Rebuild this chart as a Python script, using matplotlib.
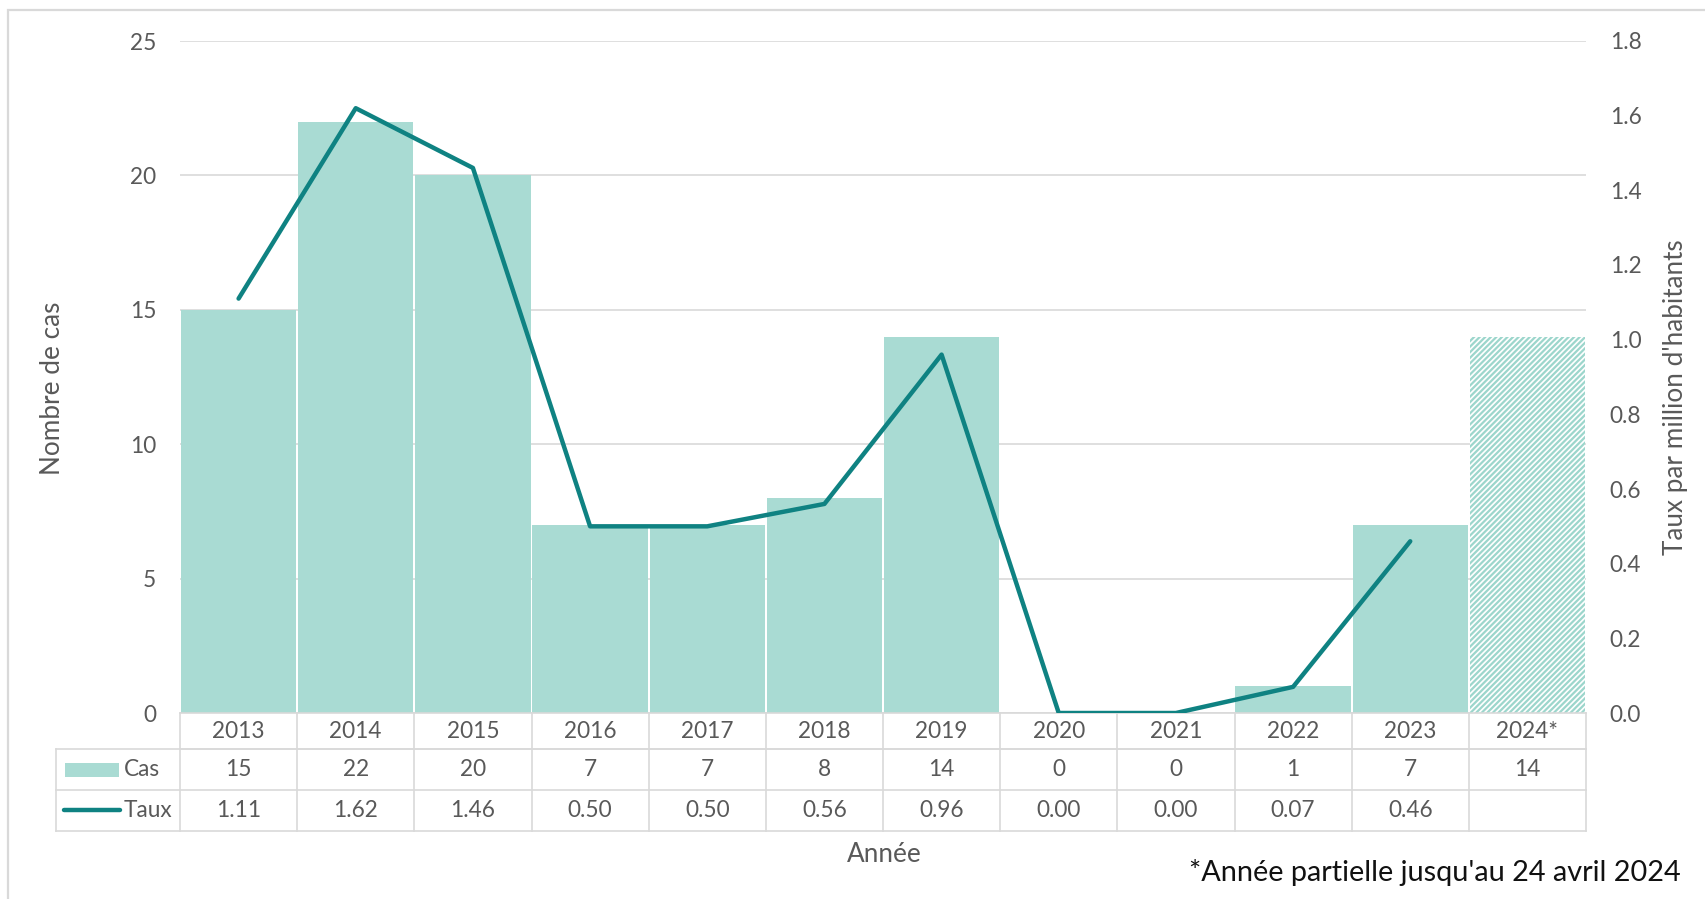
import matplotlib
matplotlib.use("Agg")
import matplotlib.pyplot as plt
from matplotlib.patches import Rectangle
from matplotlib.lines import Line2D
from matplotlib.transforms import blended_transform_factory
import numpy as np

plt.rcParams['font.family'] = ['Lato', 'DejaVu Sans']
plt.rcParams['hatch.linewidth'] = 1.6

years = ["2013", "2014", "2015", "2016", "2017", "2018", "2019", "2020", "2021", "2022", "2023", "2024*"]
cas = [15, 22, 20, 7, 7, 8, 14, 0, 0, 1, 7, 14]
taux = [1.11, 1.62, 1.46, 0.50, 0.50, 0.56, 0.96, 0.00, 0.00, 0.07, 0.46]
taux_labels = ["1.11", "1.62", "1.46", "0.50", "0.50", "0.56", "0.96", "0.00", "0.00", "0.07", "0.46", ""]

BAR = '#A9DBD3'
HATCH = '#9CD6CC'
LINE = '#0F8282'
GRID = '#D9D9D9'
TXT = '#595959'
FS = 16.3
FSL = 18.8

W, H = 1705, 899
fig = plt.figure(figsize=(W / 100, H / 100), dpi=100)

def fx(px):
    return px / W

def fy(py):
    return 1 - py / H

# outer border
fig.patches.append(Rectangle((fx(8), fy(905)), fx(1710) - fx(8), fy(10) - fy(905),
                             transform=fig.transFigure, fill=False, edgecolor=GRID, lw=1.6))

ax_l, ax_r, ax_t, ax_b = 180, 1586, 41, 713
ax = fig.add_axes([fx(ax_l), fy(ax_b), fx(ax_r) - fx(ax_l), fy(ax_t) - fy(ax_b)])
ax2 = ax.twinx()

x = np.arange(len(years))
ax.bar(x[:-1], cas[:-1], width=0.985, color=BAR, lw=0, zorder=2)
ax.bar(x[-1:], cas[-1:], width=0.985, facecolor='white', edgecolor=HATCH, lw=0, hatch='//////', zorder=2)
ax.set_xlim(-0.5, len(years) - 0.5)
ax.set_ylim(0, 25)
ax.set_yticks([0, 5, 10, 15, 20, 25])
ax.grid(axis='y', color=GRID, lw=1.2, zorder=0)
ax.set_axisbelow(True)
ax.set_xticks([])
for s in ax.spines.values():
    s.set_visible(False)
for s in ax2.spines.values():
    s.set_visible(False)
ax.tick_params(axis='y', length=0, pad=17, labelsize=FS, labelcolor=TXT)

ax2.plot(x[:len(taux)], taux, color=LINE, lw=3.2, solid_capstyle='round', zorder=5)
ax2.set_ylim(0, 1.8)
ax2.set_yticks(np.arange(0, 1.81, 0.2))
ax2.set_yticklabels([f"{v:.1f}" for v in np.arange(0, 1.81, 0.2)])
ax2.tick_params(axis='y', length=0, pad=17, labelsize=FS, labelcolor=TXT)
ax.set_zorder(1)
ax2.set_zorder(2)
ax2.patch.set_visible(False)

# data table
tr = blended_transform_factory(ax.transData, fig.transFigure)
rows = [713, 749, 790, 831]
ax.add_line(Line2D([-0.5, 11.5], [fy(rows[0])] * 2, transform=tr, color=GRID, lw=1.2, clip_on=False))
ax.add_line(Line2D([-0.5, 11.5], [fy(rows[1])] * 2, transform=tr, color=GRID, lw=1.2, clip_on=False))
for r in rows[1:]:
    fig.add_artist(Line2D([fx(56), fx(ax_r)], [fy(r)] * 2, transform=fig.transFigure, color=GRID, lw=1.2))
for i in range(len(years) + 1):
    ax.add_line(Line2D([i - 0.5] * 2, [fy(rows[0]), fy(rows[3])], transform=tr, color=GRID, lw=1.2, clip_on=False))
fig.add_artist(Line2D([fx(56)] * 2, [fy(rows[1]), fy(rows[3])], transform=fig.transFigure, color=GRID, lw=1.2))

ymid = [(rows[i] + rows[i + 1]) / 2 for i in range(3)]
for i in range(len(years)):
    ax.text(i, fy(ymid[0]), years[i], transform=tr, ha='center', va='center', fontsize=FS, color=TXT)
    ax.text(i, fy(ymid[1]), str(cas[i]), transform=tr, ha='center', va='center', fontsize=FS, color=TXT)
    ax.text(i, fy(ymid[2]), taux_labels[i], transform=tr, ha='center', va='center', fontsize=FS, color=TXT)

# legend keys in table
fig.patches.append(Rectangle((fx(65), fy(777)), fx(119) - fx(65), fy(763) - fy(777),
                             transform=fig.transFigure, color=BAR, lw=0))
fig.add_artist(Line2D([fx(64), fx(120)], [fy(810)] * 2, transform=fig.transFigure,
                      color=LINE, lw=3.2, solid_capstyle='round'))
fig.text(fx(124), fy(ymid[1]), "Cas", ha='left', va='center', fontsize=FS, color=TXT)
fig.text(fx(124), fy(ymid[2]), "Taux", ha='left', va='center', fontsize=FS, color=TXT)

# axis labels
fig.text(fx(53), fy(388), "Nombre de cas", rotation=90, ha='center', va='center', fontsize=FSL, color=TXT)
fig.text(fx(1675), fy(397), "Taux par million d'habitants", rotation=90, ha='center', va='center', fontsize=FSL, color=TXT)
fig.text(fx(884), fy(854), "Année", ha='center', va='center', fontsize=FSL, color=TXT)
fig.text(fx(1681), fy(873), "*Année partielle jusqu'au 24 avril 2024", ha='right', va='center', fontsize=20.8, color='#111111')

fig.savefig("out.png", dpi=100)
